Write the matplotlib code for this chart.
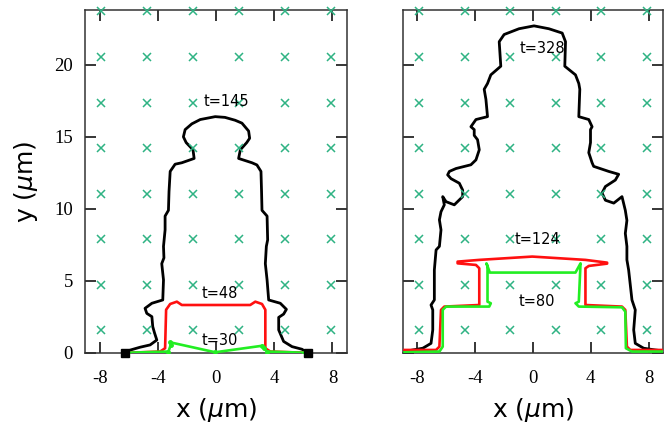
import numpy as np
import matplotlib
matplotlib.use("Agg")
import matplotlib.pyplot as plt

plt.rcParams['axes.unicode_minus'] = False

# grid of nucleation sites (green crosses)
site_x = [-7.9, -4.74, -1.58, 1.58, 4.74, 7.9]
site_y = [1.58, 4.74, 7.9, 11.06, 14.22, 17.38, 20.54, 23.7]

# left panel contours (x, y in um)
left_t145_x = [-6.28, -5.93, -5.24, -4.55, -4.09, -4.25, -4.37, -4.43, -4.78, -4.9, -4.43, -3.68,
               -3.63, -3.75, -3.6, -3.63, -3.52, -3.52, -3.29, -3.25, -3.17, -2.83, -2.37, -1.52,
               -1.6, -2.07, -2.26, -2.14, -1.68, -1.1, -0.07, 0.6, 1.3, 1.77, 2.23, 2.3, 2.1, 1.66,
               1.54, 2.46, 2.8, 3.08, 3.12, 3.15, 3.5, 3.54, 3.45, 3.38, 3.5, 3.61, 4.41, 4.83,
               4.64, 4.3, 4.3, 4.64, 5.22, 5.9, 6.3]
left_t145_y = [0.0, 0.2, 0.4, 0.56, 0.9, 1.4, 1.83, 2.52, 2.75, 3.1, 3.45, 3.68,
               5.07, 6.2, 6.6, 7.4, 8.54, 9.5, 9.9, 11.2, 12.6, 13.1, 13.2, 13.5,
               14.1, 14.6, 15.0, 15.5, 15.9, 16.2, 16.4, 16.35, 16.15, 15.95, 15.4, 14.9, 14.6, 14.1,
               13.5, 13.2, 13.05, 12.6, 11.2, 9.9, 9.5, 7.85, 7.4, 6.2, 5.07, 3.68, 3.45, 3.03,
               2.7, 2.47, 1.6, 0.8, 0.44, 0.26, 0.0]

left_t48_x = [-5.93, -3.86, -3.52, -3.45, -3.17, -2.71, -2.37, 2.34, 2.69, 3.15, 3.38, 3.38, 3.72, 6.02]
left_t48_y = [0.02, 0.1, 0.33, 3.0, 3.4, 3.56, 3.33, 3.33, 3.56, 3.4, 3.0, 0.33, 0.1, 0.02]

left_t30_x = [-6.05, -3.29, -3.13, -3.17, -0.07, 3.15, 3.27, 3.5, 6.02]
left_t30_y = [0.02, 0.1, 0.56, 0.74, 0.05, 0.5, 0.33, 0.1, 0.02]

end_x = [-6.28, 6.3]
end_y = [0.0, 0.0]

# right panel contours
right_t328_x = [-8.9, -8.32, -7.63, -7.06, -6.94, -6.94, -7.06, -6.83, -6.83, -6.71, -6.48, -6.37,
                -6.48, -6.37, -6.14, -6.25, -6.02, -5.45, -4.87, -4.87, -5.1, -5.68, -5.91, -5.79,
                -5.33, -4.3, -3.95, -3.72, -3.84, -4.07, -4.07, -4.3, -3.95, -3.15, -3.26, -3.38,
                -3.15, -2.92, -2.23, -2.34, -2.0, -0.97, 0.07, 1.1, 2.02, 2.25, 2.2, 2.94, 3.17,
                3.24, 3.17, 3.86, 4.09, 3.98, 3.98, 3.86, 4.09, 4.2, 5.24, 5.93, 5.7, 5.01, 4.78,
                5.01, 5.59, 6.16, 6.39, 6.5, 6.39, 6.5, 6.5, 6.62, 6.85, 7.08, 6.97, 7.08, 7.66,
                8.46, 9.0]
right_t328_y = [0.1, 0.21, 0.33, 0.67, 1.6, 2.99, 3.33, 3.68, 5.76, 7.15, 7.4, 8.54,
                9.24, 9.8, 10.28, 10.85, 10.5, 10.28, 10.85, 11.3, 11.78, 12.1, 12.36, 12.6,
                12.8, 13.06, 13.4, 14.1, 14.8, 15.1, 15.5, 15.7, 16.2, 16.4, 17.6, 18.3,
                18.7, 19.3, 19.9, 21.6, 22.1, 22.5, 22.7, 22.5, 22.2, 21.6, 19.9, 19.3, 18.7,
                18.3, 16.4, 16.2, 15.7, 15.5, 14.6, 13.9, 13.2, 12.95, 12.6, 12.4, 12.0, 11.55, 11.1,
                10.6, 10.4, 10.85, 9.9, 9.2, 8.3, 7.4, 6.46, 5.76, 3.68, 2.99, 1.6, 0.67, 0.33,
                0.21, 0.14]

right_t124_x = [-8.9, -6.71, -6.48, -6.37, -6.14, -3.72, -3.72, -3.95, -5.22, -5.22, -3.72, -0.05,
                3.63, 5.13, 5.13, 3.86, 3.63, 3.63, 6.16, 6.39, 6.5, 6.74, 8.92]
right_t124_y = [0.21, 0.21, 0.44, 2.99, 3.22, 3.33, 5.88, 6.11, 6.22, 6.34, 6.46, 6.69,
                6.46, 6.27, 6.2, 6.04, 5.88, 3.33, 3.22, 2.99, 0.44, 0.21, 0.21]

right_t80_x = [-8.9, -6.48, -6.25, -6.25, -6.02, -3.03, -2.92, -3.15, -3.15, -3.22, -2.99, 2.94,
               3.17, 3.29, 3.17, 2.94, 3.17, 6.16, 6.39, 6.43, 6.85, 8.92]
right_t80_y = [0.05, 0.1, 0.44, 2.99, 3.22, 3.22, 3.45, 3.56, 6.0, 6.22, 5.58, 5.58,
               6.0, 6.22, 3.56, 3.45, 3.22, 3.17, 2.87, 0.33, 0.1, 0.1]

left_labels = [("t=145", 0.69, 17.45), ("t=48", 0.28, 4.1), ("t=30", 0.28, 0.9)]
right_labels = [("t=328", 0.64, 21.1), ("t=124", 0.3, 7.85), ("t=80", 0.3, 3.6)]

x_ticks = [-8, -4, 0, 4, 8]
y_ticks = [0, 5, 10, 15, 20]

cross_color = "#2fb383"
serif = "Liberation Serif"


def styleAxes(ax, show_ylabels):
    ax.set_xlim(-9, 9)
    ax.set_ylim(0, 23.8)
    ax.set_xticks(x_ticks)
    ax.set_yticks(y_ticks)
    ax.tick_params(direction="in", length=8, width=1.1, top=True, right=True,
                   labelsize=13.5)
    ax.tick_params(axis="x", pad=12)
    ax.tick_params(axis="y", pad=9)
    for lab in ax.get_xticklabels() + ax.get_yticklabels():
        lab.set_fontfamily(serif)
    if not show_ylabels:
        ax.set_yticklabels([])
    for sp in ax.spines.values():
        sp.set_linewidth(1.1)
        sp.set_color("#333333")
    ax.set_xlabel(r"x ($\mu$m)", fontsize=18, labelpad=7)


def drawSites(ax):
    gx, gy = np.meshgrid(site_x, site_y)
    ax.plot(gx.ravel(), gy.ravel(), "x", color=cross_color, markersize=5.5,
            markeredgewidth=1.1, linestyle="none", zorder=5, clip_on=False)


def drawLabels(ax, labels):
    for text, x, y in labels:
        ax.text(x, y, text, fontsize=10.5, ha="center", va="center", zorder=6)


fig = plt.figure(figsize=(6.71, 4.26), dpi=100)
ax1 = fig.add_axes([0.1274, 0.1714, 0.3897, 0.8051])
ax2 = fig.add_axes([0.6006, 0.1714, 0.3875, 0.8051])

# left panel
drawSites(ax1)
ax1.plot(left_t145_x, left_t145_y, color="black", lw=2.0, zorder=3)
ax1.plot(left_t48_x, left_t48_y, color="#ff1010", lw=1.9, zorder=3)
ax1.plot(left_t30_x, left_t30_y, color="#22ee22", lw=1.9, marker="o", markersize=2.5, zorder=4)
ax1.plot(end_x, end_y, "s", color="black", markersize=6, zorder=6, clip_on=False)
drawLabels(ax1, left_labels)
styleAxes(ax1, True)
ax1.set_ylabel(r"y ($\mu$m)", fontsize=18, labelpad=10)

# right panel
drawSites(ax2)
ax2.plot(right_t328_x, right_t328_y, color="black", lw=2.0, zorder=3)
ax2.plot(right_t124_x, right_t124_y, color="#ff1010", lw=1.9, zorder=3)
ax2.plot(right_t80_x, right_t80_y, color="#22ee22", lw=1.9, zorder=4)
drawLabels(ax2, right_labels)
styleAxes(ax2, False)

fig.savefig("out.png", dpi=100)
